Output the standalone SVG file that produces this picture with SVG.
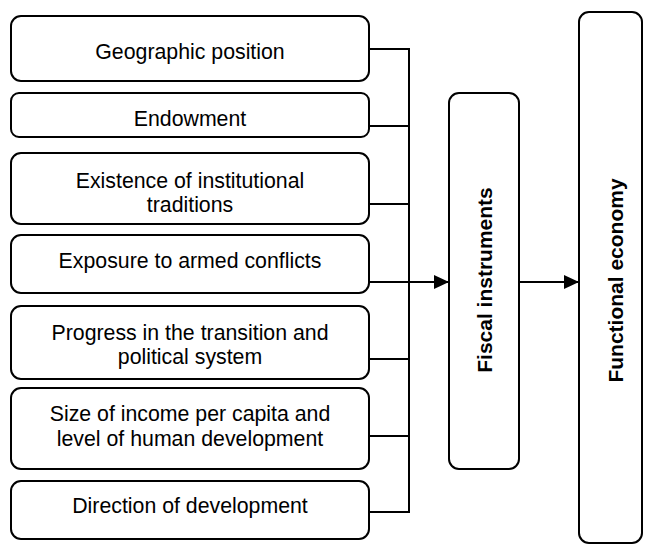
<svg xmlns="http://www.w3.org/2000/svg" width="646" height="546" viewBox="0 0 646 546">
<defs>
<style>
.box{fill:#fff;stroke:#000;stroke-width:2}
.t{font-family:"Liberation Sans",Arial,sans-serif;font-size:21.3px;fill:#000;text-anchor:middle}
.b{font-family:"Liberation Sans",Arial,sans-serif;font-size:21px;font-weight:bold;fill:#000;text-anchor:middle}
.ln{fill:none;stroke:#000;stroke-width:2}
</style>
<marker id="arr" viewBox="0 0 15 14" refX="15" refY="7" markerWidth="15" markerHeight="14" markerUnits="userSpaceOnUse" orient="auto">
<path d="M0,0 L15,7 L0,14 z" fill="#000"/>
</marker>
</defs>
<rect width="646" height="546" fill="#fff"/>
<g id="connectors">
<path class="ln" d="M369,49 H409 V512 H369"/>
<path class="ln" d="M369,126 H409"/>
<path class="ln" d="M369,204 H409"/>
<path class="ln" d="M369,359 H409"/>
<path class="ln" d="M369,436 H409"/>
<path class="ln" d="M369,282 H449" marker-end="url(#arr)"/>
<path class="ln" d="M519,282 H579" marker-end="url(#arr)"/>
</g>
<g id="n1"><rect class="box" x="11" y="16" width="358" height="65" rx="10"/><text class="t" x="190" y="59">Geographic position</text></g>
<g id="n2"><rect class="box" x="11" y="93" width="358" height="44" rx="8"/><text class="t" x="190" y="126">Endowment</text></g>
<g id="n3"><rect class="box" x="11" y="153" width="358" height="71" rx="10"/><text class="t" x="190" y="188">Existence of institutional</text><text class="t" x="190" y="212">traditions</text></g>
<g id="n4"><rect class="box" x="11" y="235" width="358" height="58" rx="10"/><text class="t" x="190" y="268">Exposure to armed conflicts</text></g>
<g id="n5"><rect class="box" x="11" y="306" width="358" height="73" rx="10"/><text class="t" x="190" y="340">Progress in the transition and</text><text class="t" x="190" y="364">political system</text></g>
<g id="n6"><rect class="box" x="11" y="388" width="358" height="81" rx="10"/><text class="t" x="190" y="421">Size of income per capita and</text><text class="t" x="190" y="446">level of human development</text></g>
<g id="n7"><rect class="box" x="11" y="481" width="358" height="58" rx="10"/><text class="t" x="190" y="513">Direction of development</text></g>
<g id="fiscal"><rect class="box" x="449" y="93" width="70" height="376" rx="10"/><text class="b" transform="translate(492,280) rotate(-90)">Fiscal instruments</text></g>
<g id="functional"><rect class="box" x="579" y="12" width="63" height="531" rx="10"/><text class="b" transform="translate(623,280.5) rotate(-90)">Functional economy</text></g>
</svg>
